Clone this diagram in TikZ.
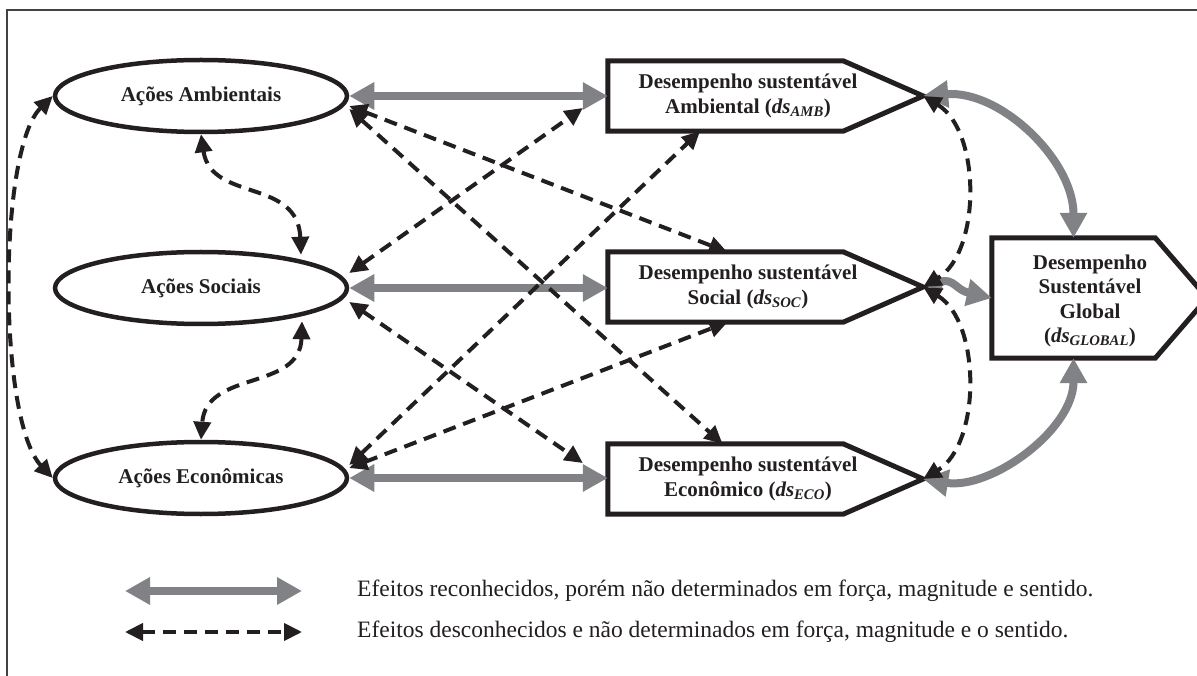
\documentclass[tikz,border=0pt]{standalone}
\usepackage{fontspec}
\setmainfont{Liberation Serif}
\usetikzlibrary{arrows.meta,shapes.geometric}

\definecolor{effgray}{RGB}{128,130,133}
\definecolor{inkblack}{RGB}{35,31,32}

\begin{document}
\begin{tikzpicture}[x=1pt,y=-1pt,
  every node/.style={text=inkblack},
  acao/.style={ellipse, draw=inkblack, line width=4.5pt, minimum width=292pt,
    minimum height=72pt, inner sep=0pt, font=\fontsize{21}{24.5}\selectfont\bfseries},
  caixa/.style={minimum width=235pt, minimum height=70pt, inner sep=0pt},
  contorno/.style={draw=inkblack, line width=5pt, line join=miter},
  rotulo/.style={align=center, inner sep=0pt, font=\fontsize{21}{24.5}\selectfont\bfseries},
  legenda/.style={anchor=west, inner sep=0pt, font=\fontsize{23.5}{27}\selectfont},
  conhecido/.style={draw=effgray, line width=8pt,
    {Triangle[length=25pt,width=26pt]}-{Triangle[length=25pt,width=26pt]}},
  desconhecido/.style={draw=inkblack, line width=4pt, dash pattern=on 13pt off 8pt,
    {Triangle[length=18pt,width=17pt]}-{Triangle[length=18pt,width=17pt]}},
]
\useasboundingbox (0,0) rectangle (1197,676);
\clip (0,0) rectangle (1197,676);
\fill[white] (0,0) rectangle (1197,676);

% outer frame (open to the right and bottom)
\draw[draw=inkblack!85, line width=2pt] (7,700) -- (7,10) -- (1230,10);

% actions
\node[acao] (amb) at (201,96)  {Ações Ambientais};
\node[acao] (soc) at (201,288) {Ações Sociais};
\node[acao] (eco) at (201,478) {Ações Econômicas};

% sustainable performance boxes
\node[caixa] (bA) at (725.5,96)  {};
\node[caixa] (bS) at (725.5,287) {};
\node[caixa] (bE) at (725.5,479) {};
\coordinate (tA) at ([xshift=80pt]bA.east);
\coordinate (tS) at ([xshift=80pt]bS.east);
\coordinate (tE) at ([xshift=80pt]bE.east);
\foreach \b/\t in {bA/tA,bS/tS,bE/tE}
  \draw[contorno] (\b.north west) -- (\b.north east) -- (\t) -- (\b.south east) -- (\b.south west) -- cycle;

\node[rotulo] (lA) at (748,96)  {Desempenho sustentável\\Ambiental (\textit{ds}\textsubscript{\textit{AMB}})};
\node[rotulo] (lS) at (748,287) {Desempenho sustentável\\Social (\textit{ds}\textsubscript{\textit{SOC}})};
\node[rotulo] (lE) at (748,479) {Desempenho sustentável\\Econômico (\textit{ds}\textsubscript{\textit{ECO}})};

% global performance box
\node[caixa, minimum width=163pt, minimum height=120pt] (bG) at (1073.5,298) {};
\coordinate (tG) at ([xshift=52pt]bG.east);
\draw[contorno] (bG.north west) -- (bG.north east) -- (tG) -- (bG.south east) -- (bG.south west) -- cycle;
\node[rotulo] (lG) at (1090,301) {Desempenho\\Sustentável\\Global\\(\textit{ds}\textsubscript{\textit{GLOBAL}})};

% recognised effects (grey)
\draw[conhecido] (amb.east) -- (amb.east -| bA.west);
\draw[conhecido] (soc.east) -- (soc.east -| bS.west);
\draw[conhecido] (eco.east) -- (eco.east -| bE.west);
\draw[conhecido] (tA) .. controls +(77,-6) and +(0,-78) .. (bG.north);
\draw[conhecido] (tE) .. controls +(67,11) and +(0,72) .. (bG.south);
\draw[conhecido, {Triangle[length=14pt,width=16pt]}-{Triangle[length=25pt,width=26pt]}]
  ([xshift=4pt]tS) .. controls +(26,-10) and +(-36,-8) .. (bG.west);

% unknown effects (dashed)
\draw[desconhecido] (amb.west) .. controls +(-55,54) and +(-55,-58) .. (eco.west);
\draw[desconhecido] (amb.south) .. controls +(10,68) and +(-3,-77) .. ([xshift=100pt,yshift=-5pt]soc.north);
\draw[desconhecido] ([xshift=101pt,yshift=5pt]soc.south) .. controls +(-2,70) and +(5,-70) .. (eco.north);

\draw[desconhecido] ([yshift=-10pt]amb.east) -- ([xshift=1.5pt]bS.north);
\draw[desconhecido] ([yshift=-13pt]amb.east) -- ([xshift=-3pt]bE.north);
\draw[desconhecido] ([yshift=15pt]soc.east) -- ([xshift=-25pt,yshift=-12pt]bA.west);
\draw[desconhecido] ([yshift=-14pt]soc.east) -- ([xshift=-25pt,yshift=16pt]bE.west);
\draw[desconhecido] ([yshift=13pt]eco.east) -- ([xshift=-25.5pt]bA.south);
\draw[desconhecido] ([yshift=10pt]eco.east) -- ([xshift=2pt]bS.south);

\draw[desconhecido] (tA) .. controls +(58,35) and +(58,-35) .. (tS);
\draw[desconhecido] (tS) .. controls +(58,35) and +(58,-35) .. (tE);

% legend
\coordinate (g1) at (125,591);
\coordinate (g2) at (302,591);
\draw[conhecido] (g1) -- (g2);
\node[legenda] (t1) at (357,591) {Efeitos reconhecidos, porém não determinados em força, magnitude e sentido.};
\coordinate (d1) at (125,632);
\coordinate (d2) at (302,632);
\draw[desconhecido] (d1) -- (d2);
\node[legenda] (t2) at (357,632) {Efeitos desconhecidos e não determinados em força, magnitude e o sentido.};
\end{tikzpicture}
\end{document}
